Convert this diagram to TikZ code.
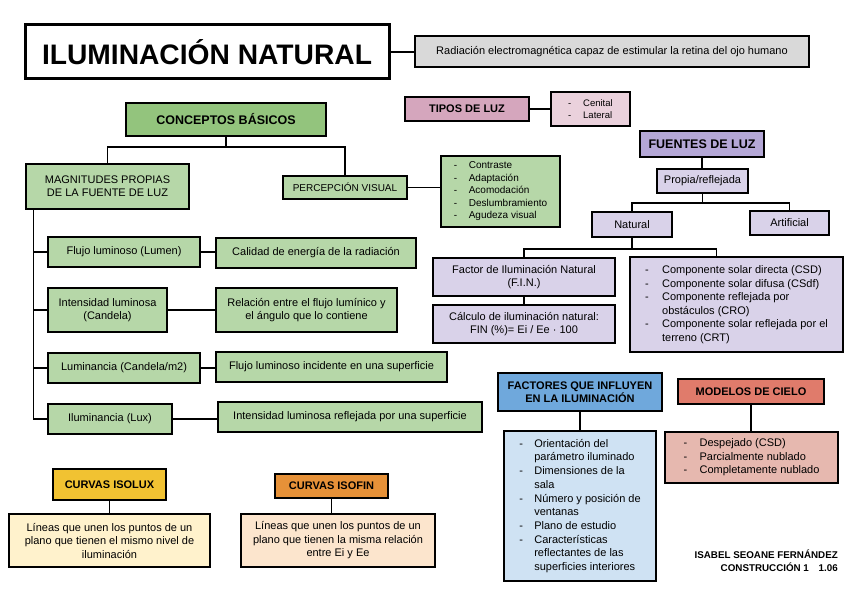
\documentclass[tikz,border=0pt]{standalone}
\usepackage{fontspec}
\usepackage{xcolor}
\setmainfont{Liberation Sans}

\definecolor{gris}{HTML}{D9D9D9}
\definecolor{verde}{HTML}{93C47D}
\definecolor{verdeclaro}{HTML}{B6D7A8}
\definecolor{rosa}{HTML}{D5A6BD}
\definecolor{rosaclaro}{HTML}{EAD1DC}
\definecolor{lila}{HTML}{B4A7D6}
\definecolor{lilaclaro}{HTML}{D9D2E9}
\definecolor{azul}{HTML}{6FA8DC}
\definecolor{azulclaro}{HTML}{CFE2F3}
\definecolor{rojo}{HTML}{E07B6B}
\definecolor{rojoclaro}{HTML}{E6B8AF}
\definecolor{amarillo}{HTML}{F1C232}
\definecolor{amarilloclaro}{HTML}{FFF2CC}
\definecolor{naranja}{HTML}{E69138}
\definecolor{naranjaclaro}{HTML}{FCE5CD}

\newcommand{\guion}[1][15pt]{\makebox[#1][l]{-}}
\newcommand{\sangria}[1][15pt]{\hspace*{#1}}

\tikzset{
  box/.style={draw, line width=1.5pt, inner sep=2pt, align=center,
    font=\fontsize{11}{13}\selectfont},
  head/.style={box, font=\bfseries\fontsize{11}{13}\selectfont},
  lista/.style={box, align=left},
  wh/.style 2 args={minimum width=#1pt, minimum height=#2pt},
  link/.style={line width=1.5pt},
}

\begin{document}
\begin{tikzpicture}[x=1pt,y=-1pt]
    \path[use as bounding box, fill=white] (0,0) rectangle (848,599);

    % Title
    \node[box, wh={364}{54}, line width=3pt, font=\bfseries\fontsize{28.2}{32}\selectfont] (title) at (207,52) {ILUMINACIÓN NATURAL};
    \node[box, wh={394}{31}, fill=gris] (def) at (612,51.5) {Radiación electromagnética capaz de estimular la retina del ojo humano};

    % Conceptos basicos
    \node[head, wh={200}{33}, fill=verde, font=\bfseries\fontsize{12.5}{14}\selectfont] (cb) at (226,119.5) {CONCEPTOS BÁSICOS};
    \node[box, wh={163}{45}, fill=verdeclaro] (mag) at (107.5,186.5) {MAGNITUDES PROPIAS\\DE LA FUENTE DE LUZ};
    \node[box, wh={124}{23}, fill=verdeclaro, font=\fontsize{10}{12}\selectfont] (perc) at (345,187.5) {PERCEPCIÓN VISUAL};
    \node[lista, wh={119}{71}, fill=verdeclaro, font=\fontsize{10}{12.5}\selectfont] (vis) at (500.5,191.5)
        {\guion Contraste\\\guion Adaptación\\\guion Acomodación\\\guion Deslumbramiento\\\guion Agudeza visual};

    \node[box, wh={152}{30}, fill=verdeclaro] (flujo) at (124,252) {Flujo luminoso (Lumen)};
    \node[box, wh={200}{30}, fill=verdeclaro] (cal) at (316,253) {Calidad de energía de la radiación};
    \node[box, wh={119}{44}, fill=verdeclaro] (inten) at (107.5,310) {Intensidad luminosa\\(Candela)};
    \node[box, wh={181}{44}, fill=verdeclaro] (rel) at (306.5,310) {Relación entre el flujo lumínico y\\el ángulo que lo contiene};
    \node[box, wh={152}{30}, fill=verdeclaro] (lumi) at (124,368) {Luminancia (Candela/m2)};
    \node[box, wh={231}{30}, fill=verdeclaro] (flinc) at (331.5,367) {Flujo luminoso incidente en una superficie};
    \node[box, wh={124}{30}, fill=verdeclaro] (ilum) at (110,419) {Iluminancia (Lux)};
    \node[box, wh={264}{30}, fill=verdeclaro] (intref) at (350,417) {Intensidad luminosa reflejada por una superficie};

    % Tipos y fuentes de luz
    \node[head, wh={124}{24}, fill=rosa] (tipos) at (467,109) {TIPOS DE LUZ};
    \node[lista, wh={79}{34}, fill=rosaclaro, font=\fontsize{9.5}{12}\selectfont] (cen) at (590.5,109) {\guion Cenital\\\guion Lateral};
    \node[head, wh={124}{26}, fill=lila, font=\bfseries\fontsize{12.5}{14}\selectfont] (fdl) at (702,144) {FUENTES DE LUZ};
    \node[box, wh={91}{24}, fill=lilaclaro] (prop) at (702.5,181) {Propia/reflejada};
    \node[box, wh={80}{25}, fill=lilaclaro] (nat) at (632,224.5) {Natural};
    \node[box, wh={79}{24}, fill=lilaclaro] (art) at (789.5,223) {Artificial};
    \node[box, wh={182}{38}, fill=lilaclaro] (fin) at (524,277) {Factor de Iluminación Natural\\(F.I.N.)};
    \node[box, wh={182}{38}, fill=lilaclaro] (calc) at (524,324) {Cálculo de iluminación natural:\\FIN (\%)= Ei / Ee · 100};
    \node[lista, wh={213}{95}, fill=lilaclaro, font=\fontsize{11}{13.5}\selectfont] (comp) at (736.5,304.5)
        {\guion[17pt]Componente solar directa (CSD)\\\guion[17pt]Componente solar difusa (CSdf)\\
         \guion[17pt]Componente reflejada por\\\sangria[17pt]obstáculos (CRO)\\
         \guion[17pt]Componente solar reflejada por el\\\sangria[17pt]terreno (CRT)};

    % Factores y modelos de cielo
    \node[head, wh={164}{38}, fill=azul] (facT) at (580,392) {FACTORES QUE INFLUYEN\\EN LA ILUMINACIÓN};
    \node[lista, wh={152}{150}, fill=azulclaro, font=\fontsize{11}{13.7}\selectfont] (fac) at (580,506)
        {\guion Orientación del\\\sangria parámetro iluminado\\\guion Dimensiones de la\\\sangria sala\\
         \guion Número y posición de\\\sangria ventanas\\\guion Plano de estudio\\
         \guion Características\\\sangria reflectantes de las\\\sangria superficies interiores};
    \node[head, wh={146}{25}, fill=rojo] (modT) at (751,391.5) {MODELOS DE CIELO};
    \node[lista, wh={173}{51}, fill=rojoclaro, font=\fontsize{11}{13.5}\selectfont] (mod) at (751.5,457.5)
        {\guion[16pt]Despejado (CSD)\\\guion[16pt]Parcialmente nublado\\\guion[16pt]Completamente nublado};

    % Curvas
    \node[head, wh={113}{31}, fill=amarillo] (isolux) at (109.5,484.5) {CURVAS ISOLUX};
    \node[box, wh={201}{53}, fill=amarilloclaro, font=\fontsize{11}{13.5}\selectfont] (isoluxL) at (109.5,540.5)
        {Líneas que unen los puntos de un\\plano que tienen el mismo nivel de\\iluminación};
    \node[head, wh={113}{24}, fill=naranja] (isofin) at (331.5,486) {CURVAS ISOFIN};
    \node[box, wh={194}{53}, fill=naranjaclaro, font=\fontsize{11}{13.5}\selectfont] (isofinL) at (338,540.5)
        {Líneas que unen los puntos de un\\plano que tienen la misma relación\\entre Ei y Ee};

    % Firma
    \node[align=right, anchor=east, inner sep=0pt, font=\bfseries\fontsize{9.8}{13}\selectfont] (firma) at (838,560.5)
        {ISABEL SEOANE FERNÁNDEZ\\CONSTRUCCIÓN 1\quad 1.06};

    % Connectors
    \draw[link] (title.east) -- (title.east -| def.west);
    \draw[link] (cb.south) -- ++(0,10) coordinate (cbj);
    \draw[link] (mag.north) |- (cbj) -| (perc.north);
    \draw[link] (perc.east) -- (perc.east -| vis.west);
    \coordinate (spine) at ([xshift=8pt]mag.south west);
    \draw[link] (spine) |- (ilum.west);
    \foreach \n in {flujo,inten,lumi}
        \draw[link] (\n.west) -- (\n.west -| spine);
    \draw[link] (flujo.east) -- (flujo.east -| cal.west);
    \draw[link] (inten.east) -- (inten.east -| rel.west);
    \draw[link] (lumi.east) -- (lumi.east -| flinc.west);
    \draw[link] (ilum.east) -- (ilum.east -| intref.west);

    \draw[link] (tipos.east) -- (tipos.east -| cen.west);
    \draw[link] (fdl.south) -- (fdl.south |- prop.north);
    \draw[link] (prop.south) -- ++(0,9) coordinate (propj);
    \draw[link] (nat.north) |- (propj) -| (art.north);
    \draw[link] (nat.south) -- ++(0,11) coordinate (natj);
    \draw[link] (fin.north) |- (natj) -| ([xshift=87pt]comp.north west);
    \draw[link] (fin.south) -- (calc.north);

    \draw[link] (facT.south) -- (fac.north);
    \draw[link] (modT.south) -- (modT.south |- mod.north);
    \draw[link] (isolux.south) -- (isolux.south |- isoluxL.north);
    \draw[link] (isofin.south) -- (isofin.south |- isofinL.north);
\end{tikzpicture}
\end{document}
